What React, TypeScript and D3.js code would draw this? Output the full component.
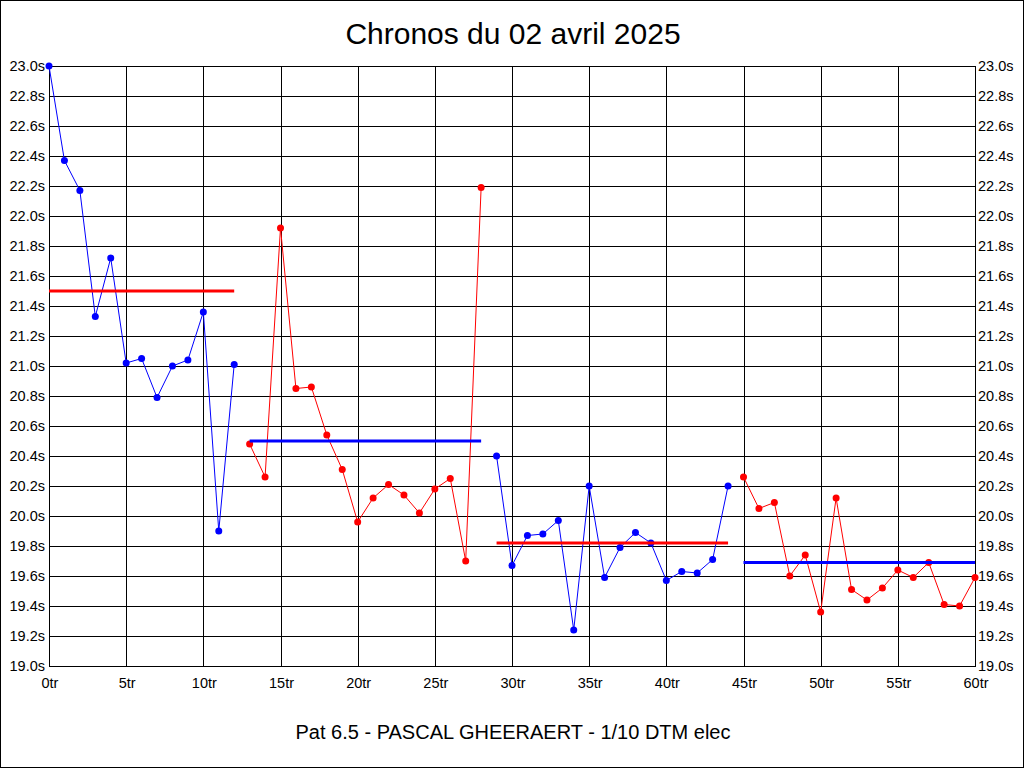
import React from "react";
import * as d3 from "d3";

const title = "Chronos du 02 avril 2025";
const subtitle = "Pat 6.5 - PASCAL GHEERAERT - 1/10 DTM elec";

const xTickValues = [0, 5, 10, 15, 20, 25, 30, 35, 40, 45, 50, 55, 60];
const xTickLabels = ["0tr", "5tr", "10tr", "15tr", "20tr", "25tr", "30tr", "35tr", "40tr", "45tr", "50tr", "55tr", "60tr"];
const yTickValues = [19.0, 19.2, 19.4, 19.6, 19.8, 20.0, 20.2, 20.4, 20.6, 20.8, 21.0, 21.2, 21.4, 21.6, 21.8, 22.0, 22.2, 22.4, 22.6, 22.8, 23.0];
const yTickLabels = ["19.0s", "19.2s", "19.4s", "19.6s", "19.8s", "20.0s", "20.2s", "20.4s", "20.6s", "20.8s", "21.0s", "21.2s", "21.4s", "21.6s", "21.8s", "22.0s", "22.2s", "22.4s", "22.6s", "22.8s", "23.0s"];

// Stints: first lap number and lap times
const stint1Start = 0;
const stint1Times = [23.0, 22.37, 22.17, 21.33, 21.72, 21.02, 21.05, 20.79, 21.0, 21.04, 21.36, 19.9, 21.01];
const stint2Start = 13;
const stint2Times = [20.48, 20.26, 21.92, 20.85, 20.86, 20.54, 20.31, 19.96, 20.12, 20.21, 20.14, 20.02, 20.18, 20.25, 19.7, 22.19];
const stint3Start = 29;
const stint3Times = [20.4, 19.67, 19.87, 19.88, 19.97, 19.24, 20.2, 19.59, 19.79, 19.89, 19.82, 19.57, 19.63, 19.62, 19.71, 20.2];
const stint4Start = 45;
const stint4Times = [20.26, 20.05, 20.09, 19.6, 19.74, 19.36, 20.12, 19.51, 19.44, 19.52, 19.64, 19.59, 19.69, 19.41, 19.4, 19.59];

const stintMeans = [21.5, 20.5, 19.82, 19.69];
const stintColors = ["#0000ff", "#ff0000", "#0000ff", "#ff0000"];
const meanColors = ["#ff0000", "#0000ff", "#ff0000", "#0000ff"];

const stints = [
  { start: stint1Start, times: stint1Times },
  { start: stint2Start, times: stint2Times },
  { start: stint3Start, times: stint3Times },
  { start: stint4Start, times: stint4Times },
];

const W = 1024;
const H = 768;
const left = 49;
const right = 975;
const top = 66;
const bottom = 666;

export default function App() {
  const x = d3.scaleLinear().domain([0, 60]).range([left, right]);
  const y = d3.scaleLinear().domain([19, 23]).range([bottom, top]);
  const font = "'Liberation Sans', Arial, Helvetica, sans-serif";
  const line = d3
    .line<[number, number]>()
    .x((d) => x(d[0]))
    .y((d) => y(d[1]));

  return (
    <svg
      width={W}
      height={H}
      style={{ position: "absolute", left: 0, top: 0, background: "#fff" }}
      fontFamily={font}
    >
      <rect x={0.5} y={0.5} width={W - 1} height={H - 1} fill="#fff" stroke="#000" strokeWidth={1} />
      <text x={W / 2 + 1} y={44} textAnchor="middle" fontSize={30} fill="#000">
        {title}
      </text>
      {/* grid */}
      <g shapeRendering="crispEdges">
        {yTickValues.map((v) => (
          <line key={"h" + v} x1={left} x2={right + 1} y1={Math.round(y(v)) + 0.5} y2={Math.round(y(v)) + 0.5} stroke="#000" strokeWidth={1} />
        ))}
        {xTickValues.map((v) => (
          <line key={"v" + v} y1={top} y2={bottom + 1} x1={Math.round(x(v)) + 0.5} x2={Math.round(x(v)) + 0.5} stroke="#000" strokeWidth={1} />
        ))}
      </g>
      {/* y labels */}
      {yTickValues.map((v, i) => (
        <g key={"yl" + v}>
          <text x={left - 4} y={y(v) + 5} textAnchor="end" fontSize={14.5} fill="#000">
            {yTickLabels[i]}
          </text>
          <text x={right + 3} y={y(v) + 5} textAnchor="start" fontSize={14.5} fill="#000">
            {yTickLabels[i]}
          </text>
        </g>
      ))}
      {xTickValues.map((v, i) => (
        <text key={"xl" + v} x={x(v) + 1} y={688} textAnchor="middle" fontSize={14.5} fill="#000">
          {xTickLabels[i]}
        </text>
      ))}
      {/* series */}
      {stints.map((s, si) => {
        const pts: [number, number][] = s.times.map((t, i) => [s.start + i, t]);
        const endLap = s.start + s.times.length - 1;
        return (
          <g key={"s" + si}>
            <path d={line(pts) || ""} fill="none" stroke={stintColors[si]} strokeWidth={1} />
            {pts.map((p, i) => (
              <circle key={i} cx={x(p[0])} cy={y(p[1])} r={3.5} fill={stintColors[si]} />
            ))}
            <line
              x1={x(s.start)}
              x2={x(endLap)}
              y1={y(stintMeans[si])}
              y2={y(stintMeans[si])}
              stroke={meanColors[si]}
              strokeWidth={3}
            />
          </g>
        );
      })}
      <text x={W / 2 + 1} y={739} textAnchor="middle" fontSize={20} fill="#000">
        {subtitle}
      </text>
    </svg>
  );
}
